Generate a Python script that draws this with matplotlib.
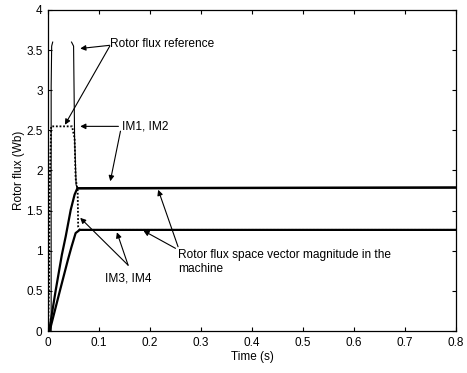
import numpy as np
import matplotlib
matplotlib.use("Agg")
import matplotlib.pyplot as plt

plt.rcParams['font.family'] = ['Liberation Sans', 'DejaVu Sans']

# Rotor flux space vector magnitude, IM1/IM2 (thick solid)
t_im12 = [0.0, 0.002, 0.015, 0.027, 0.0346, 0.0444, 0.052, 0.0575, 0.8]
v_im12 = [0.0, 0.0, 0.51, 0.95, 1.18, 1.51, 1.70, 1.78, 1.79]

# Rotor flux space vector magnitude, IM3/IM4 (thick solid)
t_im34 = [0.0, 0.003, 0.0235, 0.039, 0.046, 0.054, 0.062, 0.8]
v_im34 = [0.0, 0.0, 0.51, 0.89, 1.05, 1.22, 1.26, 1.26]

# Rotor flux reference, IM3/IM4 (dotted)
t_ref34 = [0.0, 0.002, 0.003, 0.006, 0.047, 0.052, 0.054, 0.058, 0.059, 0.062, 0.8]
v_ref34 = [0.0, 0.6, 1.8, 2.55, 2.55, 2.4, 1.9, 1.75, 1.3, 1.26, 1.26]

# Rotor flux reference, IM1/IM2 (thin solid, visible pieces)
t_ref12a = [0.006, 0.006, 0.007, 0.009]
v_ref12a = [0.0, 3.05, 3.55, 3.6]
t_ref12b = [0.046, 0.050, 0.052, 0.055, 0.058, 0.8]
v_ref12b = [3.6, 3.55, 2.4, 1.82, 1.77, 1.78]

fig = plt.figure(figsize=(4.67, 3.73), dpi=100)
ax = fig.add_axes([0.103, 0.1126, 0.873, 0.8606])

ax.plot(t_ref12a, v_ref12a, color='black', lw=0.8)
ax.plot(t_ref12b, v_ref12b, color='black', lw=0.8)
ax.plot(t_im12, v_im12, color='black', lw=1.6)
ax.plot(t_im34, v_im34, color='black', lw=1.6)
ax.plot(t_ref34, v_ref34, color='black', lw=1.3, ls=(0, (1, 1)))

ax.set_xlim(0, 0.8)
ax.set_ylim(0, 4)
ax.set_xticks(np.arange(0, 0.81, 0.1))
ax.set_xticklabels(['0', '0.1', '0.2', '0.3', '0.4', '0.5', '0.6', '0.7', '0.8'])
ax.set_yticks(np.arange(0, 4.01, 0.5))
ax.set_yticklabels(['0', '0.5', '1', '1.5', '2', '2.5', '3', '3.5', '4'])
ax.tick_params(direction='in', top=True, right=True, labelsize=8.5, length=3, width=0.8, pad=4)
for s in ax.spines.values():
    s.set_linewidth(0.9)
ax.set_xlabel('Time (s)', fontsize=8.5, labelpad=2)
ax.set_ylabel('Rotor flux (Wb)', fontsize=8.5, labelpad=1)

fs = 8.6
arrow = dict(arrowstyle='-|>', color='black', lw=0.8, mutation_scale=8, shrinkA=0, shrinkB=0)

ax.text(0.122, 3.575, 'Rotor flux reference', fontsize=fs, va='center', ha='left')
ax.annotate('', xy=(0.063, 3.52), xytext=(0.121, 3.56), arrowprops=arrow)
ax.annotate('', xy=(0.033, 2.57), xytext=(0.121, 3.55), arrowprops=arrow)

ax.text(0.145, 2.55, 'IM1, IM2', fontsize=fs, va='center', ha='left')
ax.annotate('', xy=(0.063, 2.55), xytext=(0.138, 2.55), arrowprops=arrow)
ax.annotate('', xy=(0.122, 1.866), xytext=(0.142, 2.49), arrowprops=arrow)

ax.text(0.112, 0.66, 'IM3, IM4', fontsize=fs, va='center', ha='left')
ax.annotate('', xy=(0.063, 1.41), xytext=(0.157, 0.82), arrowprops=arrow)
ax.annotate('', xy=(0.135, 1.23), xytext=(0.157, 0.82), arrowprops=arrow)

ax.text(0.255, 0.86, 'Rotor flux space vector magnitude in the\nmachine', fontsize=fs,
        va='center', ha='left', linespacing=1.2)
ax.annotate('', xy=(0.216, 1.76), xytext=(0.255, 1.05), arrowprops=arrow)
ax.annotate('', xy=(0.187, 1.25), xytext=(0.250, 1.03), arrowprops=arrow)

fig.savefig('out.png', dpi=100)
